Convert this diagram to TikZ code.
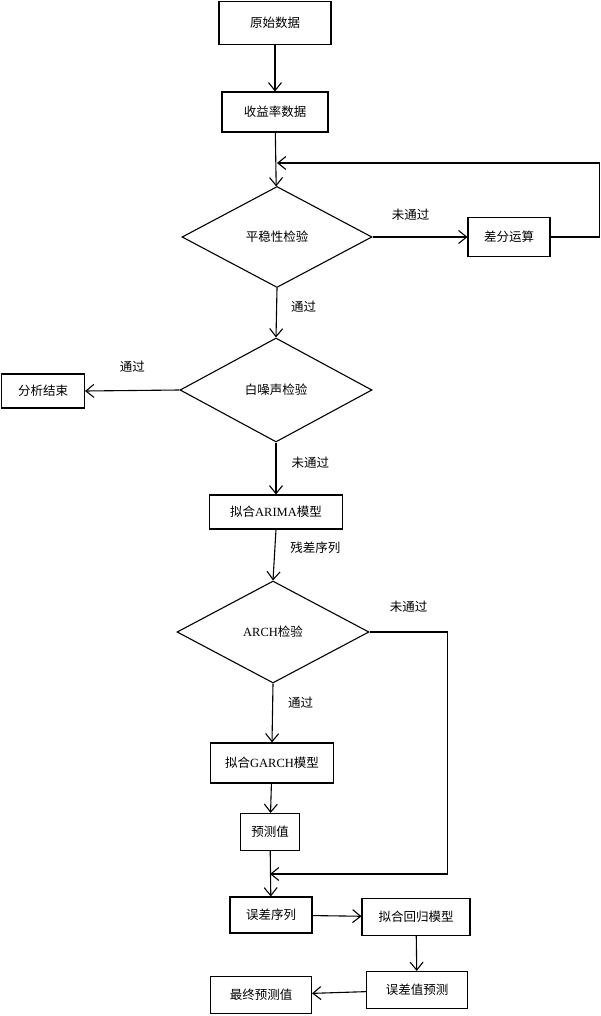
\documentclass[tikz,border=0pt]{standalone}
\usepackage{fontspec}
\setmainfont{Liberation Serif}
\newfontfamily\cjk{Noto Sans CJK SC}
\usetikzlibrary{shapes.geometric,arrows.meta}

\begin{document}
\begin{tikzpicture}
  [x=1pt,y=-1pt,
   every node/.style={font=\cjk\fontsize{12.5pt}{15pt}\selectfont},
   box/.style={draw,line width=1.1pt,inner sep=0pt},
   test/.style={draw,diamond,line width=1.1pt,inner sep=0pt},
   lab/.style={inner sep=0pt},
   arr/.style={line width=1.1pt,-{Straight Barb[length=8pt,width=13pt,line width=1.1pt]}}]
  \useasboundingbox (0,0) rectangle (601,1016);

  \node[box,minimum width=112pt,minimum height=43pt] (raw) at (275,23) {原始数据};
  \node[box,minimum width=106pt,minimum height=40pt] (ret) at (275,112) {收益率数据};
  \node[test,minimum width=190pt,minimum height=101pt] (stat) at (277,237) {平稳性检验};
  \node[box,minimum width=82pt,minimum height=39pt] (diff) at (509,237) {差分运算};
  \node[test,minimum width=192pt,minimum height=104pt] (wn) at (276,390) {白噪声检验};
  \node[box,minimum width=83pt,minimum height=34pt] (end) at (43,391) {分析结束};
  \node[box,minimum width=133pt,minimum height=34pt] (arima) at (276,512) {拟合{\rmfamily ARIMA}模型};
  \node[test,minimum width=192pt,minimum height=102pt] (arch) at (273,632) {{\rmfamily ARCH}检验};
  \node[box,minimum width=123pt,minimum height=40pt] (garch) at (272,763) {拟合{\rmfamily GARCH}模型};
  \node[box,minimum width=59pt,minimum height=37pt] (pred) at (270,832) {预测值};
  \node[box,minimum width=82pt,minimum height=36pt] (errs) at (271,915) {误差序列};
  \node[box,minimum width=108pt,minimum height=37pt] (reg) at (416,917) {拟合回归模型};
  \node[box,minimum width=101pt,minimum height=37pt] (errp) at (417,990) {误差值预测};
  \node[box,minimum width=101pt,minimum height=37pt] (final) at (261,995) {最终预测值};

  \coordinate (fb) at (277,163);
  \coordinate (mg) at (270,874);

  \draw[arr] (raw) -- (ret);
  \draw[arr] (ret) -- (stat);
  \draw[arr] (stat.east) -- node[lab,pos=0.4,above=16pt] {未通过} (diff.west);
  \draw[arr] (diff.east) -- ++(49,0) |- (fb);
  \draw[arr] (stat.south) -- node[lab,pos=0.37,right=14pt] {通过} (wn.north);
  \draw[arr] (wn.west) -- node[lab,midway,above=18pt] {通过} (end.east);
  \draw[arr] (wn.south) -- node[lab,pos=0.38,right=15pt] {未通过} (arima.north);
  \draw[arr] (arima.south) -- node[lab,pos=0.36,right=15pt] {残差序列} (arch.north);
  \draw[arr] (arch.east) -- node[lab,midway,above=19pt] {未通过} ++(78,0) |- (mg);
  \draw[arr] (arch.south) -- node[lab,pos=0.32,right=15pt] {通过} (garch.north);
  \draw[arr] (garch) -- (pred);
  \draw[arr] (pred) -- (errs);
  \draw[arr] (errs) -- (reg);
  \draw[arr] (reg) -- (errp);
  \draw[arr] (errp) -- (final);

\end{tikzpicture}
\end{document}
